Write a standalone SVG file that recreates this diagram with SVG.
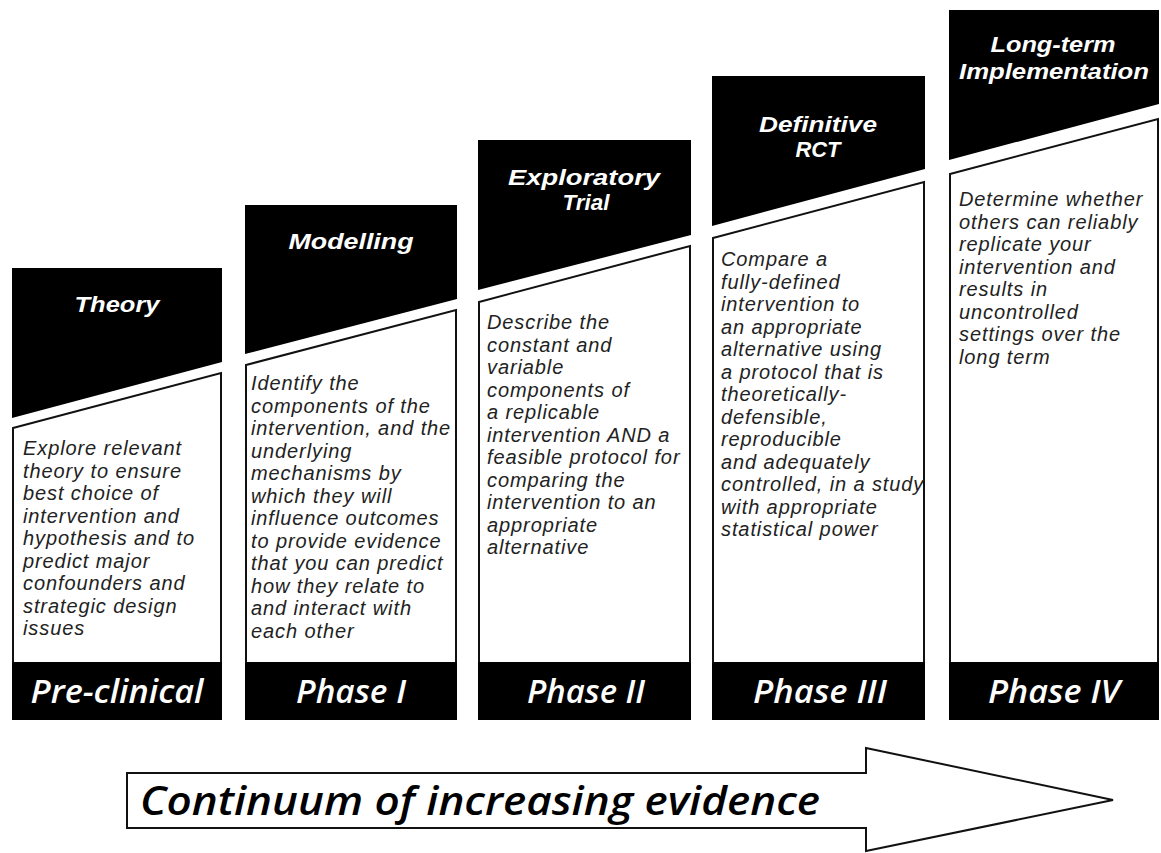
<svg xmlns="http://www.w3.org/2000/svg" width="1161" height="853" viewBox="0 0 1161 853">
<style>
.hdr{fill:#000}
.box{fill:#fff;stroke:#111;stroke-width:2}
.foot{fill:#000}
.t{font-family:"Liberation Sans",Arial,sans-serif;font-style:italic;font-weight:bold;fill:#fff;text-anchor:middle}
.h{font-size:22px}
.f{font-family:"Open Sans","Liberation Sans",sans-serif;font-weight:600;font-size:33px}
.b{font-family:"Liberation Sans",Arial,sans-serif;font-style:italic;font-size:20px;letter-spacing:0.9px;fill:#222}
.arrow{fill:#fff;stroke:#111;stroke-width:2}
.at{font-family:"Open Sans","Liberation Sans",sans-serif;font-style:italic;font-weight:600;font-size:40px;fill:#000}
</style>
<rect width="1161" height="853" fill="#fff"/>

<g id="col-preclinical">
<polygon class="hdr" points="12,268 222,268 222,362 12,418"/>
<polygon class="box" points="13,428 221,373 221,663 13,663"/>
<rect class="foot" x="12" y="662" width="210" height="58"/>
<text class="t h" x="117" y="312" textLength="85" lengthAdjust="spacingAndGlyphs">Theory</text>
<text class="b" x="23" y="455">
<tspan x="23" dy="0">Explore relevant</tspan>
<tspan x="23" dy="22.5">theory to ensure</tspan>
<tspan x="23" dy="22.5">best choice of</tspan>
<tspan x="23" dy="22.5">intervention and</tspan>
<tspan x="23" dy="22.5">hypothesis and to</tspan>
<tspan x="23" dy="22.5">predict major</tspan>
<tspan x="23" dy="22.5">confounders and</tspan>
<tspan x="23" dy="22.5">strategic design</tspan>
<tspan x="23" dy="22.5">issues</tspan>
</text>
<text class="t f" x="117" y="703" textLength="173" lengthAdjust="spacingAndGlyphs">Pre-clinical</text>
</g>

<g id="col-phase1">
<polygon class="hdr" points="245,205 457,205 457,299 245,354"/>
<polygon class="box" points="246,365 456,310 456,663 246,663"/>
<rect class="foot" x="245" y="662" width="212" height="58"/>
<text class="t h" x="351" y="249" textLength="125" lengthAdjust="spacingAndGlyphs">Modelling</text>
<text class="b" x="251" y="390">
<tspan x="251" dy="0">Identify the</tspan>
<tspan x="251" dy="22.5">components of the</tspan>
<tspan x="251" dy="22.5">intervention, and the</tspan>
<tspan x="251" dy="22.5">underlying</tspan>
<tspan x="251" dy="22.5">mechanisms by</tspan>
<tspan x="251" dy="22.5">which they will</tspan>
<tspan x="251" dy="22.5">influence outcomes</tspan>
<tspan x="251" dy="22.5">to provide evidence</tspan>
<tspan x="251" dy="22.5">that you can predict</tspan>
<tspan x="251" dy="22.5">how they relate to</tspan>
<tspan x="251" dy="22.5">and interact with</tspan>
<tspan x="251" dy="22.5">each other</tspan>
</text>
<text class="t f" x="351" y="703" textLength="110" lengthAdjust="spacingAndGlyphs">Phase I</text>
</g>

<g id="col-phase2">
<polygon class="hdr" points="478,140 691,140 691,235 478,290"/>
<polygon class="box" points="479,302 690,246 690,663 479,663"/>
<rect class="foot" x="478" y="662" width="213" height="58"/>
<text class="t h" x="584" y="185" textLength="152" lengthAdjust="spacingAndGlyphs">Exploratory</text>
<text class="t h" x="586" y="210" textLength="47" lengthAdjust="spacingAndGlyphs">Trial</text>
<text class="b" x="487" y="329">
<tspan x="487" dy="0">Describe the</tspan>
<tspan x="487" dy="22.5">constant and</tspan>
<tspan x="487" dy="22.5">variable</tspan>
<tspan x="487" dy="22.5">components of</tspan>
<tspan x="487" dy="22.5">a replicable</tspan>
<tspan x="487" dy="22.5">intervention AND a</tspan>
<tspan x="487" dy="22.5">feasible protocol for</tspan>
<tspan x="487" dy="22.5">comparing the</tspan>
<tspan x="487" dy="22.5">intervention to an</tspan>
<tspan x="487" dy="22.5">appropriate</tspan>
<tspan x="487" dy="22.5">alternative</tspan>
</text>
<text class="t f" x="586" y="703" textLength="118" lengthAdjust="spacingAndGlyphs">Phase II</text>
</g>

<g id="col-phase3">
<polygon class="hdr" points="712,76 925,76 925,169 712,226"/>
<polygon class="box" points="713,238 924,182 924,663 713,663"/>
<rect class="foot" x="712" y="662" width="213" height="58"/>
<text class="t h" x="818" y="132" textLength="118" lengthAdjust="spacingAndGlyphs">Definitive</text>
<text class="t h" x="818" y="157" textLength="45" lengthAdjust="spacingAndGlyphs">RCT</text>
<text class="b" x="721" y="266">
<tspan x="721" dy="0">Compare a</tspan>
<tspan x="721" dy="22.5">fully-defined</tspan>
<tspan x="721" dy="22.5">intervention to</tspan>
<tspan x="721" dy="22.5">an appropriate</tspan>
<tspan x="721" dy="22.5">alternative using</tspan>
<tspan x="721" dy="22.5">a protocol that is</tspan>
<tspan x="721" dy="22.5">theoretically-</tspan>
<tspan x="721" dy="22.5">defensible,</tspan>
<tspan x="721" dy="22.5">reproducible</tspan>
<tspan x="721" dy="22.5">and adequately</tspan>
<tspan x="721" dy="22.5">controlled, in a study</tspan>
<tspan x="721" dy="22.5">with appropriate</tspan>
<tspan x="721" dy="22.5">statistical power</tspan>
</text>
<text class="t f" x="820" y="703" textLength="134" lengthAdjust="spacingAndGlyphs">Phase III</text>
</g>

<g id="col-phase4">
<polygon class="hdr" points="949,10 1159,10 1159,104 949,160"/>
<polygon class="box" points="950,174 1158,119 1158,663 950,663"/>
<rect class="foot" x="949" y="662" width="210" height="58"/>
<text class="t h" x="1053" y="52" textLength="125" lengthAdjust="spacingAndGlyphs">Long-term</text>
<text class="t h" x="1054" y="79" textLength="190" lengthAdjust="spacingAndGlyphs">Implementation</text>
<text class="b" x="959" y="206">
<tspan x="959" dy="0">Determine whether</tspan>
<tspan x="959" dy="22.5">others can reliably</tspan>
<tspan x="959" dy="22.5">replicate your</tspan>
<tspan x="959" dy="22.5">intervention and</tspan>
<tspan x="959" dy="22.5">results in</tspan>
<tspan x="959" dy="22.5">uncontrolled</tspan>
<tspan x="959" dy="22.5">settings over the</tspan>
<tspan x="959" dy="22.5">long term</tspan>
</text>
<text class="t f" x="1054" y="703" textLength="132" lengthAdjust="spacingAndGlyphs">Phase IV</text>
</g>

<g id="connectors">
<g id="evidence-arrow">
<polygon class="arrow" points="127,773 866,773 866,748 1113,800 866,851 866,828 127,828"/>
<text class="at" x="140" y="815" textLength="680" lengthAdjust="spacingAndGlyphs">Continuum of increasing evidence</text>
</g>
</g>
</svg>
